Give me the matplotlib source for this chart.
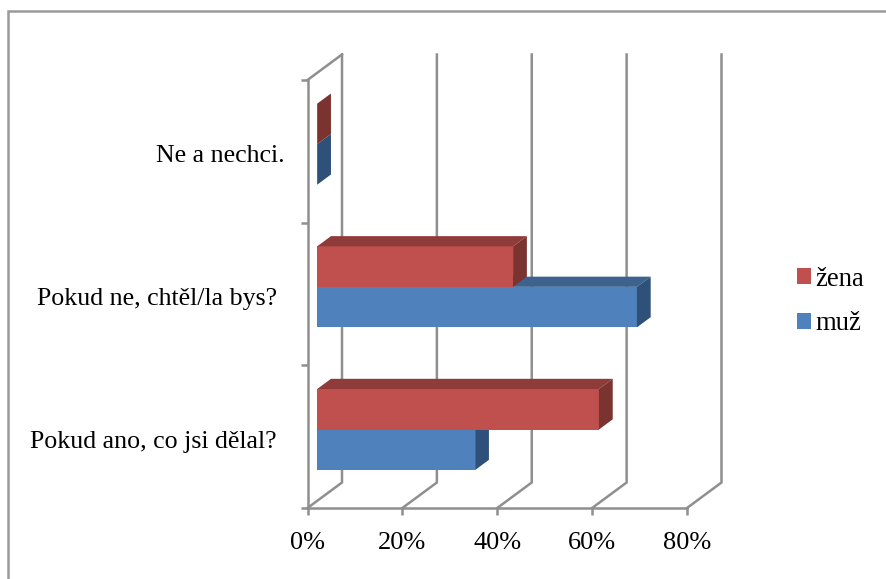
#!/usr/bin/env python3
"""Horizontal pseudo-3D bars, Office style."""
import matplotlib
matplotlib.use("Agg")
import matplotlib.pyplot as plt
from matplotlib.lines import Line2D
from matplotlib.patches import Patch, Polygon

plt.rcParams["font.family"] = ["Liberation Serif", "DejaVu Serif"]

categories = ["Pokud ano, co jsi dělal?", "Pokud ne, chtěl/la bys?", "Ne a nechci."]
muz = [33.3, 67.4, 0]
zena = [59.4, 41.3, 0]
x_ticks = [0, 20, 40, 60, 80]
x_labels = ["0%", "20%", "40%", "60%", "80%"]

W, H = 886, 579
GRID = "#8f8f8f"
LW = 1.8

# front plane of the plot box, in pixels
LEFT, RIGHT, BOTTOM, TOP = 307.5, 687, 508, 80
DX = 80 * 34.5 / (RIGHT - LEFT)     # box depth in data units
DY = 3 * 25.5 / (BOTTOM - TOP)
BAR_H = 0.284
BAR_D0, BAR_D1 = 0.28, 0.68         # bars' front and back within the depth

fig = plt.figure(figsize=(W / 100, H / 100), dpi=100)
ax = fig.add_axes([LEFT / W, 1 - BOTTOM / H, (RIGHT - LEFT) / W, (BOTTOM - TOP) / H])
ax.set_xlim(0, 80)
ax.set_ylim(0, 3)
ax.patch.set_visible(False)

# ---------- box ---------------------------------------------------------------
for s in ("top", "right"):
    ax.spines[s].set_visible(False)
for s in ("left", "bottom"):
    ax.spines[s].set_color(GRID)
    ax.spines[s].set_linewidth(LW)

for v in x_ticks:
    ax.plot([v, v + DX, v + DX], [0, DY, 3 + DY], color=GRID, lw=LW, clip_on=False,
            solid_joinstyle="miter", zorder=1)
ax.plot([0, DX], [3, 3 + DY], color=GRID, lw=LW, clip_on=False, zorder=1)

ax.set_xticks(x_ticks)
ax.set_xticklabels(x_labels, fontsize=19)
ax.set_yticks([0, 1, 2, 3])
ax.set_yticklabels([])
# labels sit a little under the category centres
ax.set_yticks([0.477, 1.479, 2.488], minor=True)
ax.set_yticklabels(categories, minor=True, fontsize=18.6)
ax.tick_params(axis="both", which="major", color=GRID, width=LW, length=5)
ax.tick_params(axis="x", pad=12)
ax.tick_params(axis="y", which="minor", length=0, pad=22)
ax.get_yticklabels(minor=True)[2].set_x(8 / (RIGHT - LEFT))

# ---------- bars --------------------------------------------------------------
def bar3d(value, y0, front, top, side):
    x0 = DX * BAR_D0
    y0 = y0 + DY * BAR_D0
    dx = DX * (BAR_D1 - BAR_D0)
    dy = DY * (BAR_D1 - BAR_D0)
    x1 = x0 + value
    y1 = y0 + BAR_H
    kw = dict(closed=True, lw=0, clip_on=False, zorder=3)
    ax.add_patch(Polygon([(x0, y0), (x1, y0), (x1, y1), (x0, y1)], fc=front, **kw))
    ax.add_patch(Polygon([(x0, y1), (x1, y1), (x1 + dx, y1 + dy), (x0 + dx, y1 + dy)], fc=top, **kw))
    ax.add_patch(Polygon([(x1, y0), (x1 + dx, y0 + dy), (x1 + dx, y1 + dy), (x1, y1)], fc=side, **kw))

for i in range(len(categories)):
    y_mid = i + 0.5
    bar3d(muz[i], y_mid - BAR_H, "#4f81bd", "#3c6290", "#2f5079")
    bar3d(zena[i], y_mid, "#c0504d", "#8e3b39", "#7b3330")

# ---------- legend and frame --------------------------------------------------
ax.legend(handles=[Patch(fc="#c0504d", label="žena"), Patch(fc="#4f81bd", label="muž")],
          loc="center left", bbox_to_anchor=(797 / W, 1 - 301.5 / H),
          bbox_transform=fig.transFigure, frameon=False, fontsize=19.2,
          handlelength=0.53, handleheight=0.53, handletextpad=0.17,
          labelspacing=0.74, borderpad=0, borderaxespad=0)

fig.add_artist(Line2D([8 / W, 8 / W, 1], [0, 1 - 10.5 / H, 1 - 10.5 / H],
                      transform=fig.transFigure, color="#9a9a9a", lw=1.8,
                      solid_joinstyle="miter"))

fig.savefig("out.png", dpi=100)
